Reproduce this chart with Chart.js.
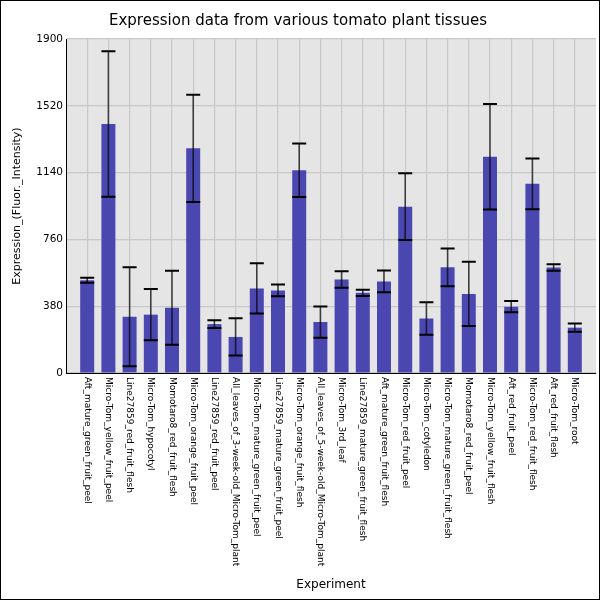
<!DOCTYPE html>
<html>
<head>
<meta charset="utf-8">
<script src="https://cdn.jsdelivr.net/npm/chart.js@4/dist/chart.umd.min.js"></script>
<style>
  html, body { margin: 0; padding: 0; background: #fff; }
  #wrap { width: 600px; height: 600px; }
</style>
</head>
<body>
<div id="wrap"><canvas id="expr-chart" width="600" height="600"></canvas></div>
<script>
// categories (tissues) and readings
const experiments = [
  'Aft_mature_green_fruit_peel',
  'Micro-Tom_yellow_fruit_peel',
  'Line27859_red_fruit_flesh',
  'Micro-Tom_hypocotyl',
  'Momotaro8_red_fruit_flesh',
  'Micro-Tom_orange_fruit_peel',
  'Line27859_red_fruit_peel',
  'All_leaves_of_3-week-old_Micro-Tom_plant',
  'Micro-Tom_mature_green_fruit_peel',
  'Line27859_mature_green_fruit_peel',
  'Micro-Tom_orange_fruit_flesh',
  'All_leaves_of_5-week-old_Micro-Tom_plant',
  'Micro-Tom_3rd_leaf',
  'Line27859_mature_green_fruit_flesh',
  'Aft_mature_green_fruit_flesh',
  'Micro-Tom_red_fruit_peel',
  'Micro-Tom_cotyledon',
  'Micro-Tom_mature_green_fruit_flesh',
  'Momotaro8_red_fruit_peel',
  'Micro-Tom_yellow_fruit_flesh',
  'Aft_red_fruit_peel',
  'Micro-Tom_red_fruit_flesh',
  'Aft_red_fruit_flesh',
  'Micro-Tom_root'
];
const meanExpr = [528, 1417, 320, 332, 371, 1278, 278, 205, 481, 470, 1153, 290,
                  532, 456, 521, 946, 310, 601, 450, 1230, 377, 1076, 600, 258];
const sdExpr   = [14, 414, 282, 146, 210, 305, 22, 106, 143, 33, 152, 89,
                  47, 18, 62, 190, 92, 107, 183, 300, 32, 144, 18, 24];
const yTicks = [0, 380, 760, 1140, 1520, 1900];

const barColor = '#4b47b1';

// grey panel behind the bars
const panelBg = {
  id: 'panelBg',
  beforeDraw(chart) {
    const {ctx, chartArea: a} = chart;
    ctx.save();
    ctx.fillStyle = '#e5e5e5';
    ctx.fillRect(a.left, a.top, a.right - a.left, a.bottom - a.top);
    ctx.restore();
  },
  afterDraw(chart) {
    // outer frame of the image
    const ctx = chart.ctx;
    ctx.save();
    ctx.strokeStyle = '#000';
    ctx.lineWidth = 1;
    ctx.strokeRect(0.5, 0.5, chart.width - 1, chart.height - 1);
    ctx.restore();
  }
};

// mean +/- sd whiskers
const errorBars = {
  id: 'errorBars',
  afterDatasetsDraw(chart) {
    const ctx = chart.ctx;
    const y = chart.scales.y;
    const meta = chart.getDatasetMeta(0);
    ctx.save();
    meta.data.forEach((bar, i) => {
      const yHi = y.getPixelForValue(meanExpr[i] + sdExpr[i]);
      const yLo = y.getPixelForValue(meanExpr[i] - sdExpr[i]);
      ctx.strokeStyle = 'rgba(0,0,0,0.7)';
      ctx.lineWidth = 1.6;
      ctx.beginPath();
      ctx.moveTo(bar.x, yHi);
      ctx.lineTo(bar.x, yLo);
      ctx.stroke();
      ctx.strokeStyle = '#000';
      ctx.lineWidth = 2;
      ctx.beginPath();
      ctx.moveTo(bar.x - 7, yHi); ctx.lineTo(bar.x + 7, yHi);
      ctx.moveTo(bar.x - 7, yLo); ctx.lineTo(bar.x + 7, yLo);
      ctx.stroke();
    });
    ctx.restore();
  }
};

// x labels read top to bottom (turned clockwise)
const xLabels = {
  id: 'xLabels',
  afterDraw(chart) {
    const ctx = chart.ctx;
    const x = chart.scales.x;
    ctx.save();
    ctx.font = '9px "DejaVu Sans"';
    ctx.fillStyle = '#000';
    ctx.textAlign = 'left';
    ctx.textBaseline = 'middle';
    experiments.forEach((name, i) => {
      ctx.save();
      ctx.translate(x.getPixelForValue(i), x.top + 4);
      ctx.rotate(Math.PI / 2);
      ctx.fillText(name, 0, 0);
      ctx.restore();
    });
    ctx.restore();
  }
};

const ctx = document.getElementById('expr-chart').getContext('2d');

new Chart(ctx, {
  type: 'bar',
  data: {
    datasets: [{
      label: 'Expression',
      data: meanExpr.map((v, i) => ({x: i, y: v})),
      backgroundColor: barColor,
      borderWidth: 0,
      barPercentage: 0.66,
      categoryPercentage: 1
    }]
  },
  options: {
    responsive: false,
    animation: false,
    layout: { padding: { left: 0, right: 4, top: 0, bottom: 0 } },
    plugins: {
      legend: { display: false },
      tooltip: { enabled: false },
      title: {
        display: true,
        text: 'Expression data from various tomato plant tissues',
        color: '#000',
        font: { family: '"DejaVu Sans"', size: 15, weight: 'normal' },
        padding: { top: 12, bottom: 9 }
      }
    },
    scales: {
      x: {
        type: 'linear',
        offset: false,
        min: -1,
        max: experiments.length,
        afterFit(scale) {
          scale.height = 227;
          scale.paddingLeft = 0;
          scale.paddingRight = 0;
        },
        ticks: { display: false, stepSize: 1 },
        grid: {
          offset: false,
          color: ctx => (ctx.tick && ctx.tick.value >= 0 && ctx.tick.value < experiments.length) ? '#c8c8c8' : 'rgba(0,0,0,0)',
          lineWidth: 1.2,
          drawTicks: false
        },
        border: { display: true, color: '#000', width: 1 },
        title: {
          display: true,
          text: 'Experiment',
          color: '#000',
          font: { family: '"DejaVu Sans"', size: 12 },
          padding: { top: 0, bottom: 8 }
        }
      },
      y: {
        min: 0,
        max: 1900,
        afterFit(scale) { scale.width = 66; },
        afterBuildTicks(scale) { scale.ticks = yTicks.map(v => ({value: v})); },
        ticks: {
          color: '#000',
          padding: 3,
          font: { family: '"DejaVu Sans"', size: 10.5 },
          callback: v => String(v)
        },
        grid: { color: '#c8c8c8', lineWidth: 1.2, drawTicks: false },
        border: { display: true, color: '#000', width: 1 },
        title: {
          display: true,
          text: 'Expression_(Fluor._Intensity)',
          color: '#000',
          font: { family: '"DejaVu Sans"', size: 11 },
          padding: { top: 11, bottom: 0 }
        }
      }
    }
  },
  plugins: [panelBg, errorBars, xLabels]
});
</script>
</body>
</html>
